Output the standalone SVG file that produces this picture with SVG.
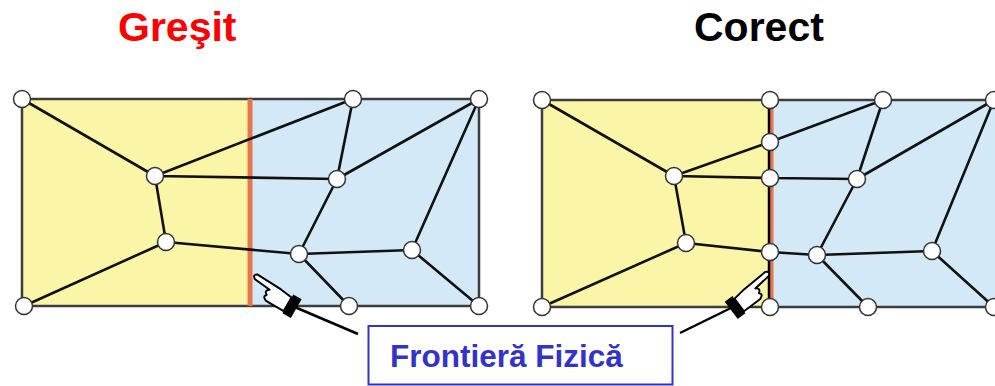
<svg xmlns="http://www.w3.org/2000/svg" width="995" height="386" viewBox="0 0 995 386">
<style>
.title{font-family:"Liberation Sans",Arial,sans-serif;font-weight:bold;font-size:41px}
.edge{stroke:#111;stroke-width:2.6;fill:none;stroke-linecap:round}
.frame{stroke:#3d3d3d;stroke-width:2.5;fill:none}
.yel{fill:#FBF5A8}
.blu{fill:#D3E9F7}
.ptr{stroke:#000;stroke-width:2.5}
</style>
<defs>
<circle id="n" r="8.5" fill="#fff" stroke="#333" stroke-width="1.5"/>
<g id="hand">
<path d="M2,-6 L13,-7.5 L36,-8.5 Q40,-6.5 36,-4 L21,-2.5 Q25,0 21,2.5 Q24,5 19,7 L2,7 Z" fill="#fff" stroke="#000" stroke-width="1.6" stroke-linejoin="round"/>
<rect x="-6" y="-9" width="8" height="18" fill="#000"/>
</g>
</defs>
<rect width="995" height="386" fill="#fff"/>
<text class="title" x="118" y="41" fill="#FF0000">Greşit</text>
<text class="title" x="694" y="41" fill="#000">Corect</text>
<g id="left-panel">
<rect class="yel" x="22" y="99" width="228" height="207"/>
<rect class="blu" x="250" y="99" width="229" height="207"/>
<rect class="frame" x="22" y="99" width="457" height="207"/>
<line x1="250" y1="99" x2="250" y2="306" stroke="#E8744A" stroke-width="5"/>
</g>
<g id="right-panel">
<rect class="yel" x="542" y="100" width="228" height="207"/>
<rect class="blu" x="770" y="100" width="226" height="207"/>
<path class="frame" d="M996,100 H542 V307 H996"/>
<line x1="771.5" y1="100" x2="771.5" y2="307" stroke="#E8744A" stroke-width="4"/>
<line x1="769" y1="100" x2="769" y2="307" stroke="#000" stroke-width="2.5"/>
</g>
<g id="connectors">
<path class="edge" d="M22,99 L155,176 M155,176 L353,99 M155,176 L337,179 M155,176 L166,242 M166,242 L24,306 M166,242 L299,254 M337,179 L353,99 M337,179 L479,99 M337,179 L299,254 M299,254 L412,250 M299,254 L349,306 M412,250 L479,99 M412,250 L479,306"/>
<path class="edge" d="M542,100 L674,176 M674,176 L770,142 M674,176 L770,178 M674,176 L686,243 M686,243 L542,307 M686,243 L770,252 M770,142 L883,100 M770,178 L857,179 M770,252 L817,255 M857,179 L883,100 M857,179 L994,100 M857,179 L817,255 M817,255 L932,251 M817,255 L868,307 M932,251 L994,100 M932,251 L994,307"/>
<line class="ptr" x1="290" y1="305" x2="358" y2="334"/>
<line class="ptr" x1="737" y1="305" x2="680" y2="333"/>
</g>
<use href="#hand" transform="translate(290,305) rotate(210) scale(1.2,-1.2)"/>
<use href="#hand" transform="translate(737,306) rotate(-37) scale(1.2)"/>
<g id="L_TL"><use href="#n" x="22" y="99"/></g>
<g id="L_A"><use href="#n" x="155" y="176"/></g>
<g id="L_B"><use href="#n" x="166" y="242"/></g>
<g id="L_BL"><use href="#n" x="24" y="306"/></g>
<g id="L_T"><use href="#n" x="353" y="99"/></g>
<g id="L_TR"><use href="#n" x="479" y="99"/></g>
<g id="L_C"><use href="#n" x="337" y="179"/></g>
<g id="L_D"><use href="#n" x="299" y="254"/></g>
<g id="L_E"><use href="#n" x="412" y="250"/></g>
<g id="L_BM"><use href="#n" x="349" y="306"/></g>
<g id="L_BR"><use href="#n" x="479" y="306"/></g>
<g id="R_TL"><use href="#n" x="542" y="100"/></g>
<g id="R_A"><use href="#n" x="674" y="176"/></g>
<g id="R_B"><use href="#n" x="686" y="243"/></g>
<g id="R_BL"><use href="#n" x="542" y="307"/></g>
<g id="R_b1"><use href="#n" x="770" y="100"/></g>
<g id="R_b2"><use href="#n" x="770" y="142"/></g>
<g id="R_b3"><use href="#n" x="770" y="178"/></g>
<g id="R_b4"><use href="#n" x="770" y="252"/></g>
<g id="R_b5"><use href="#n" x="770" y="307"/></g>
<g id="R_T"><use href="#n" x="883" y="100"/></g>
<g id="R_C"><use href="#n" x="857" y="179"/></g>
<g id="R_D"><use href="#n" x="817" y="255"/></g>
<g id="R_E"><use href="#n" x="932" y="251"/></g>
<g id="R_BM"><use href="#n" x="868" y="307"/></g>
<g id="R_TR"><use href="#n" x="994" y="100"/></g>
<g id="R_BR"><use href="#n" x="994" y="307"/></g>
<g id="label">
<rect x="368.5" y="326" width="304" height="58.5" fill="#fff" stroke="#3333CC" stroke-width="2"/>
<text x="390" y="367" font-family="'Liberation Sans',Arial,sans-serif" font-weight="bold" font-size="31.5" fill="#3333CC">Frontieră Fizică</text>
</g>
</svg>
